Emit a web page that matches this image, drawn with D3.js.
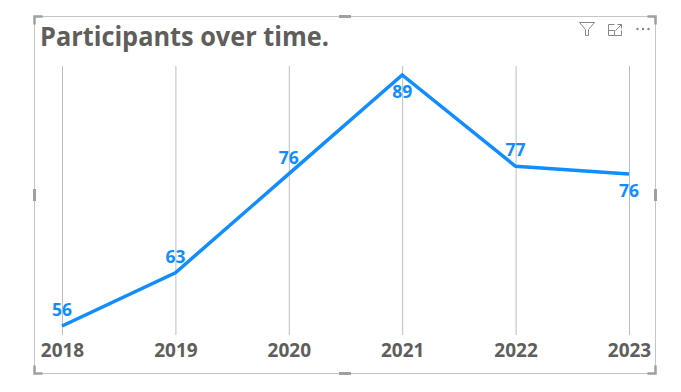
<!DOCTYPE html>
<html>
<head>
<meta charset="utf-8">
<script src="https://cdn.jsdelivr.net/npm/d3@7"></script>
<style>
  html, body { margin: 0; padding: 0; background: #fff; }
  svg { display: block; }
  text { font-family: "Open Sans", "Noto Sans", sans-serif; }
</style>
</head>
<body>
<div class="canvas"></div>
<script>
// data
const years = ['2018', '2019', '2020', '2021', '2022', '2023'];
const participants = [56, 63, 76, 89, 77, 76];
// label goes above the line except where it sits under the point
const labelBelow = [false, false, false, true, false, true];

const titleText = 'Participants over time.';
const lineColor = '#118DFF';
const textColor = '#605E5C';
const gridColor = '#BDBDBD';
const frameColor = '#C4C4C4';
const handleColor = '#A0A0A0';

const svg = d3.select('.canvas')
    .append('svg')
    .attr('width', 681)
    .attr('height', 392);

// visual frame
const frame = {left: 34.5, top: 16.5, right: 655.5, bottom: 373.5};
svg.append('rect')
    .attr('x', frame.left)
    .attr('y', frame.top)
    .attr('width', frame.right - frame.left)
    .attr('height', frame.bottom - frame.top)
    .attr('fill', 'none')
    .attr('stroke', frameColor);

// selection handles on the corners and the middle of the edges
const handles = svg.append('g')
    .attr('fill', 'none')
    .attr('stroke', handleColor)
    .attr('stroke-width', 2.5);
const cornerLen = 8;
handles.append('path').attr('d', `M${frame.left},${frame.top + cornerLen}V${frame.top}H${frame.left + cornerLen}`);
handles.append('path').attr('d', `M${frame.right - cornerLen},${frame.top}H${frame.right}V${frame.top + cornerLen}`);
handles.append('path').attr('d', `M${frame.left},${frame.bottom - cornerLen}V${frame.bottom}H${frame.left + cornerLen}`);
handles.append('path').attr('d', `M${frame.right - cornerLen},${frame.bottom}H${frame.right}V${frame.bottom - cornerLen}`);
const midX = 345, midY = 195;
handles.append('path').attr('d', `M${midX - 6},${frame.top}H${midX + 6}`).attr('stroke-width', 3);
handles.append('path').attr('d', `M${midX - 6},${frame.bottom}H${midX + 6}`).attr('stroke-width', 3);
handles.append('path').attr('d', `M${frame.left},${midY - 6}V${midY + 6}`).attr('stroke-width', 3);
handles.append('path').attr('d', `M${frame.right},${midY - 6}V${midY + 6}`).attr('stroke-width', 3);

// title
svg.append('text')
    .attr('x', 40)
    .attr('y', 46)
    .attr('font-size', 26)
    .attr('font-weight', 700)
    .attr('fill', textColor)
    .attr('textLength', 289)
    .attr('lengthAdjust', 'spacingAndGlyphs')
    .text(titleText);

// header icons: filter, focus mode, more options
const icons = svg.append('g')
    .attr('fill', 'none')
    .attr('stroke', '#8A8886')
    .attr('stroke-width', 1);
icons.append('path').attr('d', 'M579.5,22.5H594.5L588.5,29.5V35.5H585.5V29.5Z');
icons.append('path').attr('d', 'M614.5,24.5H608.5V35.5H621.5V30.5M608.5,30.5H614.5V35.5M615.5,30.5L621.5,24.5M617.5,24.5H621.5V28.5');
icons.append('g').attr('fill', '#8A8886').attr('stroke', 'none')
    .selectAll('circle')
    .data([637.5, 643, 648.5])
    .enter()
    .append('circle')
    .attr('cx', d => d)
    .attr('cy', 29)
    .attr('r', 1.2);

// scales
const x = d3.scalePoint()
    .domain(years)
    .range([62, 629]);

const y = d3.scaleLinear()
    .domain([56, 89])
    .range([326, 75]);

const gridTop = 66;
const gridBottom = 335;

// x axis with the ticks running up as the vertical gridlines
const xAxis = d3.axisBottom(x)
    .tickSize(gridTop - gridBottom)
    .tickPadding(0);

const xAxisGroup = svg.append('g')
    .attr('transform', `translate(0, ${gridBottom})`)
    .call(xAxis);

xAxisGroup.select('.domain').remove();
xAxisGroup.selectAll('.tick line')
    .attr('stroke', gridColor)
    .attr('stroke-width', 1);
xAxisGroup.selectAll('.tick text')
    .attr('y', 22)
    .attr('dy', 0)
    .attr('font-family', '"Open Sans", "Noto Sans", sans-serif')
    .attr('font-size', 19)
    .attr('font-weight', 700)
    .attr('fill', textColor);

// line
const line = d3.line()
    .x((d, i) => x(years[i]))
    .y(d => y(d));

svg.append('path')
    .datum(participants)
    .attr('d', line)
    .attr('fill', 'none')
    .attr('stroke', lineColor)
    .attr('stroke-width', 3.5)
    .attr('stroke-linejoin', 'miter');

// data labels
svg.selectAll('.label')
    .data(participants)
    .enter()
    .append('text')
    .attr('class', 'label')
    .attr('x', (d, i) => x(years[i]))
    .attr('y', (d, i) => y(d) + (labelBelow[i] ? 23 : -10))
    .attr('text-anchor', 'middle')
    .attr('font-size', 17.5)
    .attr('font-weight', 700)
    .attr('fill', lineColor)
    .text(d => d);
</script>
</body>
</html>
